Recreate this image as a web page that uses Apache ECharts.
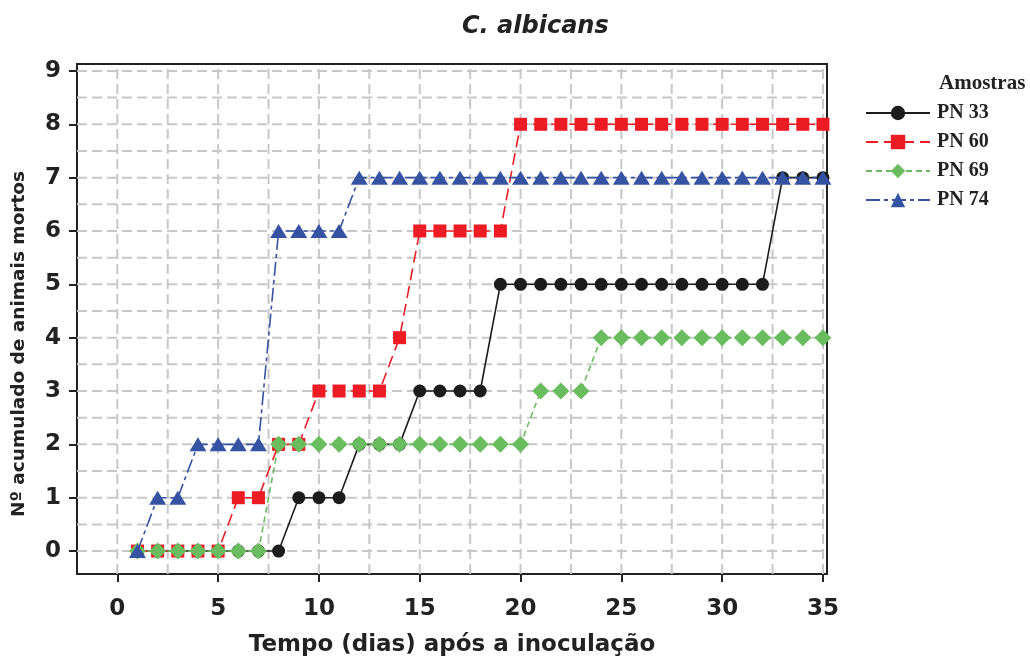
<!DOCTYPE html>
<html>
<head>
<meta charset="utf-8">
<script src="https://cdn.jsdelivr.net/npm/echarts@6/dist/echarts.min.js"></script>
<style>html,body{margin:0;padding:0;background:#fff}#c{width:1030px;height:659px}</style>
</head>
<body>
<div id="c"></div>
<script>
const days = [1,2,3,4,5,6,7,8,9,10,11,12,13,14,15,16,17,18,19,20,21,22,23,24,25,26,27,28,29,30,31,32,33,34,35];
const pn33 = [0,0,0,0,0,0,0,0,1,1,1,2,2,2,3,3,3,3,5,5,5,5,5,5,5,5,5,5,5,5,5,5,7,7,7];
const pn60 = [0,0,0,0,0,1,1,2,2,3,3,3,3,4,6,6,6,6,6,8,8,8,8,8,8,8,8,8,8,8,8,8,8,8,8];
const pn69 = [0,0,0,0,0,0,0,2,2,2,2,2,2,2,2,2,2,2,2,2,3,3,3,4,4,4,4,4,4,4,4,4,4,4,4];
const pn74 = [0,1,1,2,2,2,2,6,6,6,6,7,7,7,7,7,7,7,7,7,7,7,7,7,7,7,7,7,7,7,7,7,7,7,7];
const xTicks = [0,5,10,15,20,25,30,35];
const yTicks = [0,1,2,3,4,5,6,7,8,9];
const xGrid = [0,2.5,5,7.5,10,12.5,15,17.5,20,22.5,25,27.5,30,32.5,35];
const yGrid = [0,0.5,1,1.5,2,2.5,3,3.5,4,4.5,5,5.5,6,6.5,7,7.5,8,8.5,9];
const names = ['PN 33','PN 60','PN 69','PN 74'];

const X_MIN = -2, X_MAX = 35.2, Y_MIN = -0.43, Y_MAX = 9.13;
const pair = arr => days.map((d,i)=>[d,arr[i]]);
const vLines = [];
xGrid.forEach(v=>{ vLines.push([v,Y_MIN],[v,Y_MAX],'-'); });
const hLines = [];
yGrid.forEach(v=>{ hLines.push([X_MIN,v],[X_MAX,v],'-'); });
const sans = 'DejaVu Sans';
const serif = 'Liberation Serif';
const gridStyle = {color:'#c8c8c8', width:2, type:[10,5]};

const chart = echarts.init(document.getElementById('c'), null, {renderer:'canvas'});
chart.setOption({
  animation:false,
  backgroundColor:'#fff',
  title:[
    {text:'C. albicans', left:457, top:10, textStyle:{fontFamily:sans, fontStyle:'italic', fontWeight:'bold', fontSize:24, color:'#222'}},
    {text:'Amostras', left:934, top:68, textStyle:{fontFamily:serif, fontWeight:'bold', fontSize:21, color:'#222'}}
  ],
  grid:{left:77, right:203, top:64, bottom:85, outerBoundsMode:'none', containLabel:false, show:true, borderColor:'#222', borderWidth:2, backgroundColor:'transparent'},
  legend:{
    data:names, orient:'vertical', left:860, top:98, itemWidth:64, itemHeight:18, itemGap:9,
    textStyle:{fontFamily:serif, fontWeight:'bold', fontSize:20, color:'#222', padding:[0,0,0,2]}
  },
  xAxis:{
    type:'value', min:X_MIN, max:X_MAX,
    name:'Tempo (dias) após a inoculação', nameLocation:'middle', nameGap:60,
    nameTextStyle:{fontFamily:sans, fontWeight:'bold', fontSize:23, color:'#222'},
    axisLine:{show:true, onZero:false, lineStyle:{color:'#222', width:2}},
    axisTick:{show:true, length:8, lineStyle:{color:'#222', width:2}, customValues:xTicks},
    axisLabel:{fontFamily:sans, fontWeight:'bold', fontSize:23, color:'#222', margin:24, customValues:xTicks},
    splitLine:{show:false}
  },
  yAxis:{
    type:'value', min:Y_MIN, max:Y_MAX,
    name:'Nº acumulado de animais mortos', nameLocation:'middle', nameGap:48,
    nameTextStyle:{fontFamily:sans, fontWeight:'bold', fontSize:18.5, color:'#222', padding:[0,50,0,0]},
    axisLine:{show:true, onZero:false, lineStyle:{color:'#222', width:2}},
    axisTick:{show:true, length:8, lineStyle:{color:'#222', width:2}, customValues:yTicks},
    axisLabel:{fontFamily:sans, fontWeight:'bold', fontSize:23, color:'#222', margin:16, customValues:yTicks},
    splitLine:{show:false}
  },
  series:[
    {name:'vgrid', type:'line', data:vLines, silent:true, z:1, symbol:'none', connectNulls:false,
      lineStyle:gridStyle, itemStyle:{color:'#c8c8c8'}, emphasis:{disabled:true}},
    {name:'hgrid', type:'line', data:hLines, silent:true, z:1, symbol:'none', connectNulls:false,
      lineStyle:gridStyle, itemStyle:{color:'#c8c8c8'}, emphasis:{disabled:true}},
    {name:names[0], type:'line', data:pair(pn33), z:3, symbol:'circle', symbolSize:13,
      itemStyle:{color:'#1c1c1c'}, lineStyle:{color:'#1c1c1c', width:1.6, type:'solid'}},
    {name:names[1], type:'line', data:pair(pn60), z:4, symbol:'rect', symbolSize:13,
      itemStyle:{color:'#ed1c24'}, lineStyle:{color:'#ed1c24', width:1.6, type:[12,6]}},
    {name:names[2], type:'line', data:pair(pn69), z:5, symbol:'diamond', symbolSize:[17,17],
      itemStyle:{color:'#6abd5f'}, lineStyle:{color:'#6abd5f', width:1.6, type:[6,4]}},
    {name:names[3], type:'line', data:pair(pn74), z:6, symbol:'triangle', symbolSize:[17,14],
      itemStyle:{color:'#3653a3'}, lineStyle:{color:'#3653a3', width:1.6, type:[14,4,4,4]}}
  ]
});
</script>
</body>
</html>
